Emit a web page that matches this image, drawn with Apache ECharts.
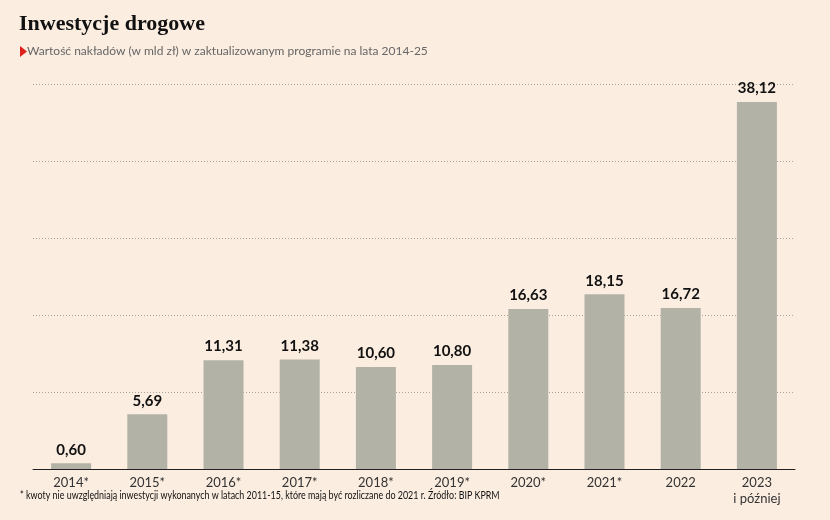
<!DOCTYPE html>
<html><head><meta charset="utf-8">
<script src="https://cdn.jsdelivr.net/npm/echarts@6/dist/echarts.min.js"></script>
<style>html,body{margin:0;padding:0;background:#fbede0;}#c{width:830px;height:520px;}</style>
</head><body><div id="c"></div>
<script>
const categories = ['2014*','2015*','2016*','2017*','2018*','2019*','2020*','2021*','2022','2023\ni później'];
const values = [0.60, 5.69, 11.31, 11.38, 10.60, 10.80, 16.63, 18.15, 16.72, 38.12];
const titleText = 'Inwestycje drogowe';
const subtitleText = 'Wartość nakładów (w mld zł) w zaktualizowanym programie na lata 2014-25';
const footnoteText = '* kwoty nie uwzględniają inwestycji wykonanych w latach 2011-15, które mają być rozliczane do 2021 r. Źródło: BIP KPRM';

const chart = echarts.init(document.getElementById('c'));
chart.setOption({
  backgroundColor: '#fbede0',
  animation: false,
  grid: {left: 33, right: 35, top: 84, bottom: 51},
  xAxis: {
    type: 'category', data: categories,
    axisLine: {lineStyle: {color: '#222', width: 1}},
    axisTick: {show: false},
    axisLabel: {color: '#333', fontFamily: 'Lato', fontSize: 13, margin: 6, lineHeight: 16}
  },
  yAxis: {
    type: 'value', min: 0, max: 40, interval: 8,
    axisLabel: {show: false}, axisLine: {show: false}, axisTick: {show: false},
    splitLine: {lineStyle: {color: '#a9a49c', type: [1, 2], width: 1}}
  },
  series: [{
    type: 'bar', data: values, barWidth: 40,
    itemStyle: {color: '#b3b2a7'},
    label: {show: true, position: 'top', distance: 6, color: '#111', fontFamily: 'Lato', fontWeight: 'bold', fontSize: 15,
      formatter: p => p.value.toFixed(2).replace('.', ',')}
  }],
  graphic: [
    {type: 'text', left: 19, top: 13, style: {text: titleText, font: 'bold 22px "Liberation Serif"', fill: '#111'}},
    {type: 'polygon', shape: {points: [[20, 46], [27, 51.5], [20, 57]]}, style: {fill: '#e0201b'}},
    {type: 'text', left: 27, top: 45, style: {text: subtitleText, font: '12px Lato', fill: '#666'}},
    {type: 'text', left: 20, top: 490, scaleX: 0.81, style: {text: footnoteText, font: '11px Lato', fill: '#111'}}
  ]
});
</script></body></html>
